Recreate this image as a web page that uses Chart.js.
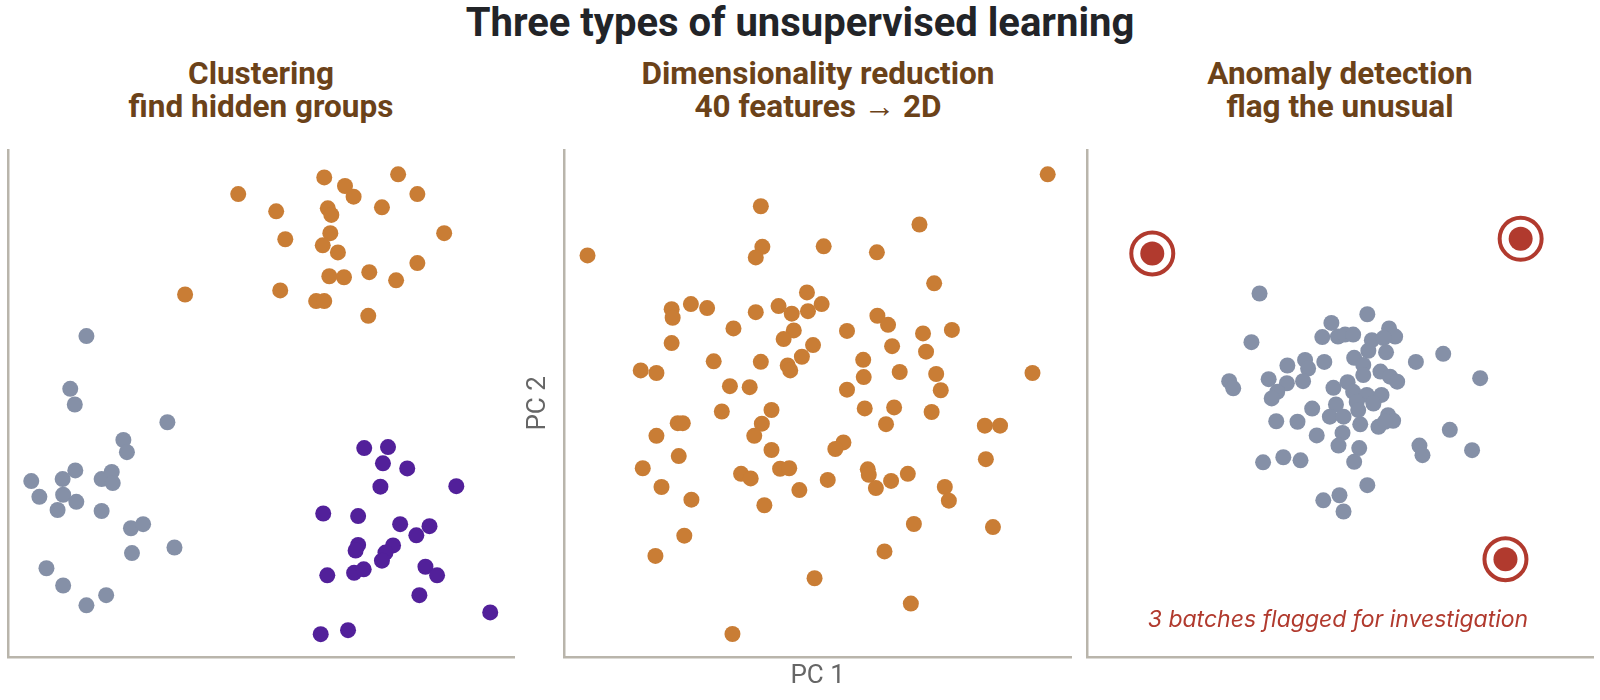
<!DOCTYPE html>
<html>
<head>
<meta charset="utf-8">
<script src="https://cdn.jsdelivr.net/npm/chart.js@4.4.7/dist/chart.umd.min.js"></script>
<style>
  html, body { margin: 0; padding: 0; background: #fff; }
  body { width: 1600px; height: 700px; position: relative; overflow: hidden; font-family: Roboto, sans-serif; }
  .title { position: absolute; left: 0; width: 1600px; top: 3px; text-align: center; font-size: 40px; line-height: 40px; font-weight: 700; color: #222428; }
  .sub { position: absolute; top: 57px; width: 520px; text-align: center; font-size: 31.5px; line-height: 33px; font-weight: 700; color: #6b4219; }
  .panel { position: absolute; top: 130px; height: 570px; }
</style>
</head>
<body>
<div class="title">Three types of unsupervised learning</div>
<div class="sub" style="left:1px">Clustering<br>find hidden groups</div>
<div class="sub" style="left:558px">Dimensionality reduction<br>40 features → 2D</div>
<div class="sub" style="left:1080px">Anomaly detection<br>flag the unusual</div>

<div class="panel" style="left:0px;width:530px"><canvas id="clusterChart"></canvas></div>
<div class="panel" style="left:515px;width:570px"><canvas id="pcaChart"></canvas></div>
<div class="panel" style="left:1075px;width:525px"><canvas id="anomalyChart"></canvas></div>

<script>
// panel 1: three clusters
const clusterOrange = [[45.5,91.3],[62.5,94.6],[66.6,92.9],[68.3,90.8],[77.1,95.2],[80.9,91.3],[53.0,87.9],
  [63.2,88.5],[63.9,87.2],[73.9,88.7],[86.2,83.6],[54.8,82.4],[63.7,83.6],[62.2,81.2],[65.2,79.8],[80.9,77.7],
  [63.5,75.1],[66.4,74.9],[71.4,75.9],[76.7,74.3],[53.8,72.3],[60.9,70.2],[62.5,70.2],[71.2,67.3],[35.0,71.5]];
const clusterGray = [[15.5,63.3],[12.3,52.9],[13.2,49.8],[31.5,46.3],[22.8,42.8],[23.5,40.4],[13.3,36.8],
  [10.8,35.1],[4.6,34.7],[18.5,35.1],[20.5,36.5],[20.7,34.3],[10.9,32.0],[6.2,31.6],[13.5,30.6],[9.8,29.0],
  [18.5,28.8],[24.3,25.4],[26.7,26.2],[32.9,21.6],[24.5,20.5],[7.6,17.5],[10.9,14.1],[19.4,12.2],[15.5,10.2]];
const clusterPurple = [[70.4,41.2],[75.1,41.4],[74.1,38.2],[78.9,37.2],[73.6,33.6],[88.6,33.7],[62.3,28.3],
  [69.2,27.8],[77.5,26.2],[83.3,25.8],[80.7,24.0],[76.1,22.0],[69.2,22.1],[68.7,21.0],[74.6,20.6],[73.9,19.0],
  [82.5,17.8],[84.8,16.1],[63.1,16.1],[68.4,16.6],[70.3,17.3],[81.3,12.2],[95.3,8.8],[61.8,4.5],[67.2,5.3]];

// panel 2: projection onto PC 1 / PC 2
const pcaPoints = [[95.4,95.2],[38.8,88.9],[70.1,85.3],[4.6,79.2],[39.1,80.9],[37.8,78.8],[51.2,81.0],[61.7,79.8],
  [73.0,73.7],[47.9,71.9],[21.2,68.6],[21.4,66.9],[25.0,69.6],[28.2,68.8],[37.8,68.0],[42.3,69.2],[44.9,67.7],
  [48.1,68.2],[50.8,69.6],[33.4,64.8],[45.3,64.4],[43.3,62.7],[49.1,61.5],[55.8,64.3],[61.8,67.3],[63.9,65.5],
  [70.8,63.8],[76.5,64.5],[21.2,61.9],[64.7,61.3],[71.4,60.2],[29.5,58.3],[38.8,58.2],[46.9,59.2],[44.1,57.5],
  [44.6,56.5],[59.0,58.6],[15.1,56.5],[18.2,56.0],[59.1,55.2],[66.2,56.2],[73.4,55.8],[92.4,56.0],[32.7,53.4],
  [36.6,53.2],[55.8,52.7],[74.3,52.6],[31.1,48.4],[40.9,48.7],[59.3,49.0],[65.1,49.2],[72.5,48.3],[22.4,46.1],
  [23.4,46.1],[18.2,43.6],[39.0,46.0],[37.5,43.6],[40.9,40.8],[63.5,45.9],[83.0,45.6],[86.0,45.6],[22.6,39.6],
  [15.5,37.2],[55.1,42.3],[53.5,41.0],[83.2,39.0],[42.6,37.1],[44.4,37.2],[34.9,36.1],[36.8,35.2],[59.9,37.0],
  [60.1,35.9],[67.8,36.1],[64.5,34.7],[61.5,33.3],[52.0,34.9],[46.4,32.9],[19.2,33.5],[75.1,33.5],[75.9,30.8],
  [25.1,31.0],[39.5,29.9],[69.0,26.2],[84.6,25.6],[23.7,23.9],[18.0,19.9],[63.2,20.8],[49.4,15.5],[68.4,10.5],
  [33.2,4.5]];

// panel 3: normal batches and outliers
const normalBatches = [[34.1,71.7],[32.5,62.1],[55.4,67.6],[48.3,65.9],[46.5,63.1],[49.6,63.2],[51.0,63.6],
  [52.6,63.6],[59.7,64.8],[60.9,63.2],[56.3,62.5],[58.6,62.9],[55.6,60.4],[59.1,60.1],[52.8,59.0],[54.6,57.6],
  [65.0,58.2],[70.4,59.8],[77.7,55.0],[46.9,58.2],[43.1,58.6],[39.6,57.5],[43.7,56.9],[35.9,54.8],[39.5,54.0],
  [42.7,54.4],[28.1,54.4],[28.9,53.0],[37.6,52.3],[36.5,51.0],[54.6,55.6],[58.0,56.3],[59.9,55.3],[61.3,54.3],
  [48.7,53.1],[51.5,54.2],[52.6,52.3],[55.3,51.7],[58.2,51.7],[56.6,50.0],[53.3,50.3],[49.2,49.8],[44.5,49.0],
  [48.0,47.4],[50.7,47.4],[53.6,48.7],[54.0,45.9],[59.5,47.7],[60.5,46.6],[57.6,45.4],[58.9,46.4],[37.4,46.5],
  [41.6,46.4],[45.4,43.7],[50.5,44.2],[49.7,41.7],[53.8,41.2],[52.8,38.5],[34.8,38.4],[38.8,39.4],[42.2,38.8],
  [65.7,41.7],[66.3,39.8],[71.7,44.8],[76.1,40.8],[55.4,33.9],[49.9,31.9],[46.7,30.9],[50.7,28.7]];
const flaggedBatches = [[12.9,79.6],[85.7,82.5],[82.7,19.3]];

const flagNote = '3 batches flagged for investigation';
const flagNotePos = [49.6, 7.2];

const ORANGE = '#c97d35';
const GRAY = '#8590a7';
const PURPLE = '#52209a';
const RED = '#b13a2e';
const AXIS = '#b9b5ab';

const toXY = (pts) => pts.map(([x, y]) => ({ x, y }));

function dots(data, color, radius = 8) {
  return { data: toXY(data), backgroundColor: color, borderWidth: 0, pointRadius: radius, pointHoverRadius: radius, clip: false };
}

function axis(title, pad) {
  return {
    type: 'linear', min: 0, max: 100,
    grid: { display: false, drawTicks: false },
    ticks: { display: false },
    border: { display: true, color: AXIS, width: 2.5 },
    title: title ? { display: true, text: title, color: '#666', font: { family: 'Roboto', size: 26 }, padding: pad } : { display: false },
  };
}

function baseOptions(padding, xTitle, yTitle) {
  return {
    responsive: true,
    maintainAspectRatio: false,
    animation: false,
    layout: { padding, autoPadding: false },
    plugins: { legend: { display: false }, tooltip: { enabled: false } },
    scales: {
      x: axis(xTitle, { top: 4, bottom: 3 }),
      y: axis(yTitle, { top: 3, bottom: 10 }),
    },
  };
}

const noteLabel = {
  id: 'noteLabel',
  afterDatasetsDraw(chart) {
    const { ctx, scales } = chart;
    ctx.save();
    ctx.font = 'italic 23px Inter';
    ctx.fillStyle = RED;
    ctx.textAlign = 'center';
    ctx.textBaseline = 'middle';
    ctx.fillText(flagNote, scales.x.getPixelForValue(flagNotePos[0]), scales.y.getPixelForValue(flagNotePos[1]));
    ctx.restore();
  },
};

new Chart(document.getElementById('clusterChart'), {
  type: 'scatter',
  data: { datasets: [dots(clusterOrange, ORANGE), dots(clusterGray, GRAY), dots(clusterPurple, PURPLE)] },
  options: baseOptions({ left: 8, right: 16, top: 20, bottom: 43 }),
});

new Chart(document.getElementById('pcaChart'), {
  type: 'scatter',
  data: { datasets: [dots(pcaPoints, ORANGE)] },
  options: baseOptions({ left: 5, right: 14, top: 20, bottom: 5 }, 'PC 1', 'PC 2'),
});

// first dataset is drawn on top
new Chart(document.getElementById('anomalyChart'), {
  type: 'scatter',
  data: {
    datasets: [
      dots(flaggedBatches, RED, 12),
      { data: toXY(flaggedBatches), backgroundColor: '#fff', borderColor: RED, borderWidth: 4, pointRadius: 21, pointHoverRadius: 21, clip: false },
      dots(normalBatches, GRAY),
    ],
  },
  options: baseOptions({ left: 12, right: 7, top: 20, bottom: 43 }),
  plugins: [noteLabel],
});
</script>
</body>
</html>
